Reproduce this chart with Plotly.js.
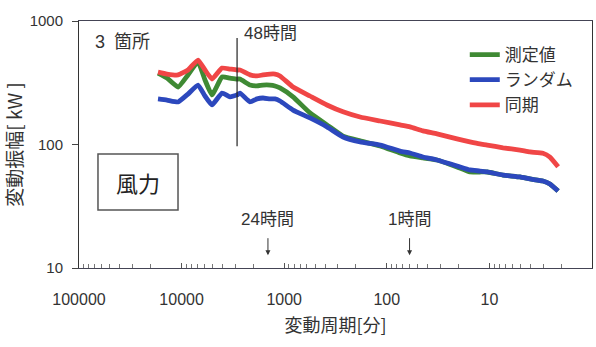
<!DOCTYPE html>
<html>
<head>
<meta charset="utf-8">
<script src="https://cdn.plot.ly/plotly-3.0.1.min.js"></script>
<style>
  html, body { margin: 0; padding: 0; background: #ffffff; }
  #chart { width: 596px; height: 347px; }
</style>
</head>
<body>
<div id="chart"></div>
<script>
// Fluctuation period [min] (log axis, long periods on the left)
const periodMin = [16980, 13870, 10840, 8670, 6918, 5916, 5056, 4036, 3375, 2884,
  2698, 2155, 1841, 1610, 1375, 1230, 1099, 820, 561, 383, 267, 182, 116, 74.3,
  59.4, 44.4, 32.4, 20.7, 15.5, 12.4, 10.5, 7.36, 5.04, 4.02, 3.01, 2.57, 2.14];

// Fluctuation amplitude [kW] for three wind sites combined
const measured = [379, 345, 292, 366, 466, 333, 252, 352, 345, 339,
  339, 303, 298, 303, 303, 298, 287, 243, 180, 144, 117, 107, 97.3, 85.3,
  80.7, 77.8, 74.9, 65.8, 59.9, 59.9, 59.9, 56.6, 54.6, 52.6, 50.6, 47.9, 42];
const randomPhase = [234, 229, 221, 256, 303, 247, 209, 261, 243, 252,
  261, 221, 234, 238, 234, 234, 225, 190, 164, 139, 115, 105, 99, 88.5,
  85.3, 79.2, 74.9, 67, 62.2, 61, 59.9, 56.6, 54.6, 52.6, 50.6, 47.9, 42];
const synchronized = [386, 372, 366, 401, 483, 401, 339, 416, 408, 401,
  401, 366, 359, 366, 372, 372, 359, 292, 247, 209, 184, 167, 155, 144,
  139, 129, 122, 111, 105, 101, 99, 94, 90, 87, 85, 79, 66];

const seriesNames = ['測定値', 'ランダム', '同期'];
const seriesColors = ['#3f8a34', '#2c48bd', '#f04646'];

// Reference periods marked on the chart
const markerLabels = ['48時間', '24時間', '1時間'];
const markerMinutes = [2880, 1440, 60];
const markerLineKw = [97, 730];   // extent of the 48-hour marker line
const arrowTipKw = 12.7;          // arrow tip level for 24h / 1h markers

const xTicks = [100000, 10000, 1000, 100, 10, 1];
const yTicks = [10, 100, 1000];

// minor ticks at 2..9 within each decade of the period axis
const minorTicks = [];
for (let d = 0; d < 5; d++) {
  for (let m = 2; m <= 9; m++) minorTicks.push(m * Math.pow(10, d));
}

const numFont = 'Liberation Sans, Arial, sans-serif';
const cjkFont = 'Noto Sans CJK JP, sans-serif';
const mixFont = 'Liberation Sans, Noto Sans CJK JP, sans-serif';
const textColor = '#333333';

const traces = [measured, randomPhase, synchronized].map((vals, i) => ({
  type: 'scatter',
  mode: 'lines',
  x: periodMin,
  y: vals,
  name: seriesNames[i],
  line: { color: seriesColors[i], width: 4.8, shape: 'spline', smoothing: 0.4 },
  hoverinfo: 'skip'
}));

// 48-hour marker line
traces.push({
  type: 'scatter',
  mode: 'lines',
  x: [markerMinutes[0], markerMinutes[0]],
  y: markerLineKw,
  line: { color: '#222', width: 1.2 },
  showlegend: false,
  hoverinfo: 'skip'
});

const lg = Math.log10;

const annotations = [
  {
    xref: 'paper', yref: 'paper', x: 0.027, y: 0.915, xanchor: 'left', yanchor: 'middle',
    text: '3\u2002箇所', showarrow: false, font: { family: mixFont, size: 18, color: textColor }
  },
  {
    xref: 'paper', yref: 'paper', x: 0.115, y: 0.35, xanchor: 'center', yanchor: 'middle',
    text: '風力', showarrow: false, font: { family: cjkFont, size: 22, color: '#222' }
  },
  {
    xref: 'x', yref: 'paper', x: lg(markerMinutes[0]), y: 0.948, xanchor: 'left', yanchor: 'middle',
    xshift: 5, text: markerLabels[0], showarrow: false,
    font: { family: mixFont, size: 17, color: textColor }
  }
];
for (let i = 1; i < markerMinutes.length; i++) {
  annotations.push({
    xref: 'x', yref: 'y', x: lg(markerMinutes[i]), y: lg(arrowTipKw),
    ax: 0, ay: -36, text: markerLabels[i], showarrow: true,
    arrowhead: 2, arrowsize: 1, arrowwidth: 1, arrowcolor: '#333', startstandoff: 8,
    font: { family: mixFont, size: 17, color: textColor }
  });
}

const shapes = [
  {
    type: 'rect', xref: 'paper', yref: 'paper',
    x0: 0.037, x1: 0.193, y0: 0.235, y1: 0.4615,
    line: { color: '#555', width: 1.5 }
  }
];

const layout = {
  width: 596,
  height: 347,
  margin: { l: 79, r: 4, t: 21, b: 79 },
  paper_bgcolor: '#ffffff',
  plot_bgcolor: '#ffffff',
  showlegend: true,
  legend: {
    x: 0.752, y: 0.935, xanchor: 'left', yanchor: 'top',
    bgcolor: 'rgba(0,0,0,0)',
    font: { family: cjkFont, size: 17, color: textColor },
    itemwidth: 30, tracegroupgap: 0
  },
  xaxis: {
    type: 'log',
    range: [5, 0],
    tickvals: xTicks,
    ticktext: xTicks.map(String),
    ticks: 'inside', ticklen: 5, tickcolor: '#555',
    ticklabelstandoff: 17,
    tickfont: { family: numFont, size: 16, color: textColor },
    minor: { tickvals: minorTicks, ticks: 'inside', ticklen: 4, tickcolor: '#777', showgrid: false },
    showline: true, linecolor: '#445', linewidth: 1, mirror: true,
    showgrid: false, zeroline: false,
    title: { text: '変動周期[分]', font: { family: cjkFont, size: 18, color: textColor }, standoff: 12 }
  },
  yaxis: {
    type: 'log',
    range: [1, 3],
    tickvals: yTicks,
    ticktext: yTicks.map(String),
    ticks: 'outside', ticklen: 6, tickcolor: '#444',
    ticklabelstandoff: 6,
    tickfont: { family: numFont, size: 15, color: textColor },
    showline: true, linecolor: '#333', linewidth: 1, mirror: true,
    showgrid: false, zeroline: false,
    title: { text: '変動振幅[ kW ]', font: { family: cjkFont, size: 19, color: textColor }, standoff: 23 }
  },
  annotations: annotations,
  shapes: shapes
};

Plotly.newPlot('chart', traces, layout, { staticPlot: true, displayModeBar: false });
</script>
</body>
</html>
